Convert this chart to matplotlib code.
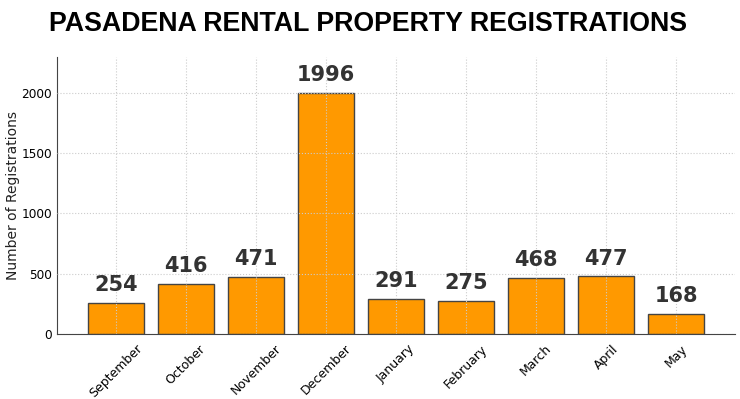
import matplotlib.pyplot as plt

months = ['September', 'October', 'November', 'December', 'January',
          'February', 'March', 'April', 'May']
registrations = [254, 416, 471, 1996, 291, 275, 468, 477, 168]

fig, ax = plt.subplots(figsize=(7.4, 3.99), dpi=100)

bars = ax.bar(months, registrations, color='#ff9900', edgecolor='#444444',
              linewidth=1, width=0.8, zorder=2)

for b, v in zip(bars, registrations):
    ax.text(b.get_x() + b.get_width() / 2, v + 65, str(v), ha='center',
            va='bottom', fontsize=15, fontweight='bold', color='#333333')

ax.set_ylim(0, max(registrations) * 1.15)
ax.set_ylabel('Number of Registrations', fontsize=10, color='#222222')
ax.yaxis.set_label_coords(-0.055, 0.5)
ax.grid(True, linestyle=':', color='#cccccc', linewidth=0.8, zorder=3)
ax.set_axisbelow(False)
for s in ['top', 'right']:
    ax.spines[s].set_visible(False)
for s in ['left', 'bottom']:
    ax.spines[s].set_color('#444444')
ax.tick_params(axis='x', rotation=45, labelsize=9, length=0, pad=6)
ax.tick_params(axis='y', labelsize=8.7, length=0)

fig.suptitle('PASADENA RENTAL PROPERTY REGISTRATIONS', fontsize=19.3,
             fontweight='bold', family='Liberation Sans', x=0.497, y=0.972)
fig.subplots_adjust(left=0.077, right=0.993, top=0.857, bottom=0.163)
fig.savefig('out.png')
